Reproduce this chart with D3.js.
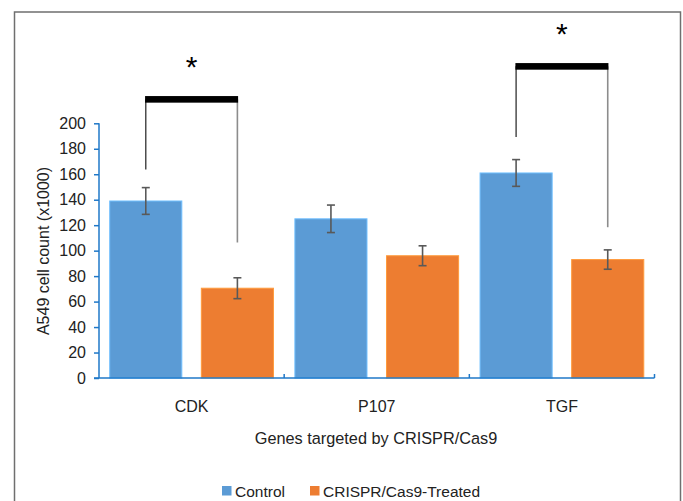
<!DOCTYPE html>
<html lang="en">
<head>
  <meta charset="UTF-8">
  <title>A549 cell count by targeted gene</title>
  <style>
    body { margin: 0; background: #fff; }
    svg { display: block; font-family: "Liberation Sans", Arial, sans-serif; }
    .axis text { font-size: 16px; fill: #222; }
  </style>
</head>
<body>
  <svg id="chart" width="683" height="501"></svg>
  <script src="https://d3js.org/d3.v7.min.js"></script>
  <script>
    // data
    const genes = ["CDK", "P107", "TGF"];
    const series = ["Control", "CRISPR/Cas9-Treated"];
    const controlMeans = [139, 125, 161];
    const controlErr = [10.5, 10.8, 10.5];
    const treatedMeans = [70.5, 96, 93];
    const treatedErr = [8.2, 7.8, 7.6];
    const yTicks = [0, 20, 40, 60, 80, 100, 120, 140, 160, 180, 200];

    // significance brackets (values on the y scale)
    const sigGenes = ["CDK", "TGF"];
    const sigLevel = [218.8, 244.7];
    const sigLegControl = [163.7, 189.3];
    const sigLegTreated = [106.4, 118.4];
    const sigMarks = ["*", "*"];

    const colors = { "Control": "#5b9bd5", "CRISPR/Cas9-Treated": "#ed7d31" };
    const axisColor = "#1f78c8";

    const svg = d3.select("#chart");

    // outer frame
    svg.append("rect")
      .attr("x", 14.5).attr("y", 12)
      .attr("width", 666).attr("height", 520)
      .attr("fill", "none")
      .attr("stroke", "#6f6f6f")
      .attr("stroke-width", 1.5);

    const x0 = d3.scaleBand().domain(genes).range([99, 654.5]).padding(0);
    const x1 = d3.scaleBand().domain(series).range([0, x0.bandwidth()])
      .paddingInner(0.213).paddingOuter(0.117);
    const y = d3.scaleLinear().domain([0, 200]).range([378, 123.3]);

    const rows = genes.map((g, i) => ({
      gene: g,
      values: [
        { key: series[0], mean: controlMeans[i], err: controlErr[i] },
        { key: series[1], mean: treatedMeans[i], err: treatedErr[i] }
      ]
    }));

    // bars
    const groups = svg.append("g").selectAll("g")
      .data(rows).enter().append("g")
      .attr("transform", d => `translate(${x0(d.gene)},0)`);

    groups.selectAll("rect")
      .data(d => d.values).enter().append("rect")
      .attr("x", d => x1(d.key))
      .attr("y", d => y(d.mean))
      .attr("width", x1.bandwidth())
      .attr("height", d => y(0) - y(d.mean))
      .attr("fill", d => colors[d.key])
      .attr("stroke", d => d3.color(colors[d.key]).brighter(0.6))
      .attr("stroke-width", 1);

    // error bars
    const eb = groups.selectAll("g.err")
      .data(d => d.values).enter().append("g")
      .attr("class", "err")
      .attr("stroke", "#595959")
      .attr("stroke-width", 1.6);
    const cx = d => x1(d.key) + x1.bandwidth() / 2;
    eb.append("line")
      .attr("x1", cx).attr("x2", cx)
      .attr("y1", d => y(d.mean + d.err)).attr("y2", d => y(d.mean - d.err));
    eb.append("line")
      .attr("x1", d => cx(d) - 4).attr("x2", d => cx(d) + 4)
      .attr("y1", d => y(d.mean + d.err)).attr("y2", d => y(d.mean + d.err));
    eb.append("line")
      .attr("x1", d => cx(d) - 4).attr("x2", d => cx(d) + 4)
      .attr("y1", d => y(d.mean - d.err)).attr("y2", d => y(d.mean - d.err));

    // y axis
    const yAxis = svg.append("g")
      .attr("class", "axis")
      .attr("transform", "translate(99,0)")
      .call(d3.axisLeft(y).tickValues(yTicks).tickSize(5).tickPadding(8));
    yAxis.select(".domain").attr("stroke", axisColor).attr("stroke-width", 1.5)
      .attr("d", `M0,${y(0)}V${y(200)}`);
    yAxis.selectAll(".tick line").attr("stroke", axisColor).attr("stroke-width", 1.5);

    // x axis with category boundary ticks pointing inward
    const xAxis = svg.append("g").attr("class", "axis");
    xAxis.append("line")
      .attr("x1", 94).attr("x2", x0.range()[1])
      .attr("y1", y(0)).attr("y2", y(0))
      .attr("stroke", axisColor).attr("stroke-width", 1.5);
    xAxis.selectAll("line.b")
      .data(genes.slice(1).map(g => x0(g)).concat([x0.range()[1]]))
      .enter().append("line")
      .attr("x1", d => d).attr("x2", d => d)
      .attr("y1", y(0)).attr("y2", y(0) - 4)
      .attr("stroke", axisColor).attr("stroke-width", 1.5);
    xAxis.selectAll("text.cat")
      .data(genes).enter().append("text")
      .attr("x", d => x0(d) + x0.bandwidth() / 2)
      .attr("y", 411.5)
      .attr("text-anchor", "middle")
      .text(d => d);

    // axis titles
    svg.append("text")
      .attr("x", 376).attr("y", 444)
      .attr("text-anchor", "middle")
      .attr("font-size", 16.3).attr("fill", "#222")
      .text("Genes targeted by CRISPR/Cas9");
    svg.append("text")
      .attr("transform", "translate(48.5,251) rotate(-90)")
      .attr("text-anchor", "middle")
      .attr("font-size", 16).attr("fill", "#222")
      .text("A549 cell count (x1000)");

    // significance brackets
    const barCenter = (g, s) => x0(g) + x1(s) + x1.bandwidth() / 2;
    sigGenes.forEach((g, i) => {
      const xa = barCenter(g, series[0]);
      const xb = barCenter(g, series[1]);
      const top = y(sigLevel[i]);
      svg.append("line")
        .attr("x1", xa).attr("x2", xa)
        .attr("y1", top).attr("y2", y(sigLegControl[i]))
        .attr("stroke", "#404040").attr("stroke-width", 1.4);
      svg.append("line")
        .attr("x1", xb).attr("x2", xb)
        .attr("y1", top).attr("y2", y(sigLegTreated[i]))
        .attr("stroke", "#8c8c8c").attr("stroke-width", 1.6);
      svg.append("rect")
        .attr("x", xa - 0.7).attr("y", top - 3.3)
        .attr("width", xb - xa + 1.4).attr("height", 6.6)
        .attr("fill", "#000");
      svg.append("text")
        .attr("x", (xa + xb) / 2).attr("y", top - 22)
        .attr("text-anchor", "middle")
        .attr("font-size", 30)
        .text(sigMarks[i]);
    });

    // legend
    const legend = svg.append("g");
    const legendX = [222, 310];
    series.forEach((s, i) => {
      legend.append("rect")
        .attr("x", legendX[i]).attr("y", 486)
        .attr("width", 9.5).attr("height", 9.5)
        .attr("fill", colors[s]);
      legend.append("text")
        .attr("x", legendX[i] + 13).attr("y", 496.5)
        .attr("font-size", 15.5).attr("fill", "#222")
        .text(s);
    });
  </script>
</body>
</html>
